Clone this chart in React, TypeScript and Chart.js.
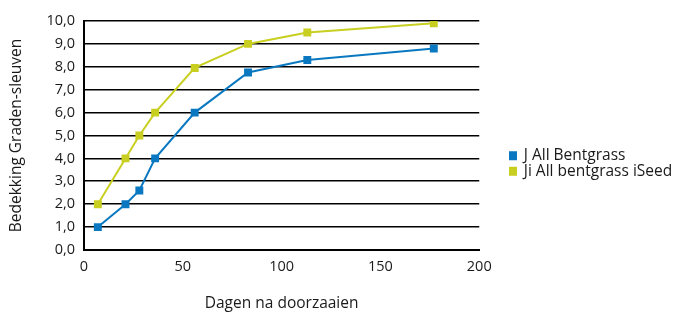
import React, { useEffect, useRef } from 'react';
import { Chart, registerables } from 'chart.js';

Chart.register(...registerables);

const days = [7, 21, 28, 36, 56, 83, 113, 177];
const bentgrass = [1.0, 2.0, 2.6, 4.0, 6.0, 7.75, 8.3, 8.8];
const iseed = [2.0, 4.0, 5.0, 6.0, 7.95, 9.0, 9.5, 9.9];
const seriesNames = ['J All Bentgrass', 'Ji All bentgrass iSeed'];
const seriesColors = ['#0a78c0', '#c8cf20'];
const yTitle = 'Bedekking Graden-sleuven';
const xTitle = 'Dagen na doorzaaien';

const FONT = '"Open Sans", sans-serif';
const TEXT = '#1a1a1a';

const legendShift = {
  id: 'legendShift',
  afterLayout(chart: any) {
    const lg = chart.legend;
    if (!lg) return;
    const targetLeft = 509;
    lg.left = targetLeft;
    lg.right = chart.width;
    lg.width = lg.right - lg.left;
    lg.top -= 4;
    lg.bottom -= 4;
  },
};

export default function App() {
  const ref = useRef<HTMLCanvasElement | null>(null);
  useEffect(() => {
    if (!ref.current) return;
    const mk = (arr: number[]) => days.map((d, i) => ({ x: d, y: arr[i] }));
    const chart = new Chart(ref.current, {
      type: 'line',
      data: {
        datasets: [bentgrass, iseed].map((arr, i) => ({
          label: seriesNames[i],
          data: mk(arr),
          borderColor: seriesColors[i],
          backgroundColor: seriesColors[i],
          borderWidth: 2,
          pointStyle: 'rect',
          pointRadius: 5.6,
          pointBorderWidth: 0,
          pointBackgroundColor: seriesColors[i],
          tension: 0,
          fill: false,
        })),
      },
      options: {
        responsive: false,
        animation: false,
        layout: { padding: { top: 21, right: 42, left: 0, bottom: 0 } },
        plugins: {
          tooltip: { enabled: false },
          legend: {
            position: 'right',
            labels: {
              boxWidth: 7,
              boxHeight: 7,
              padding: 0,
              color: TEXT,
              font: { family: FONT, size: 15.5 },
            },
          },
        },
        scales: {
          x: {
            type: 'linear',
            min: 0,
            max: 200,
            ticks: { stepSize: 50, padding: 8, color: TEXT, font: { family: FONT, size: 14.5 } },
            grid: { display: false, drawTicks: false },
            border: { display: true, color: '#000', width: 2 },
            title: {
              display: true,
              text: xTitle,
              color: TEXT,
              font: { family: FONT, size: 15.5 },
              padding: { top: 0, bottom: 1 },
            },
            afterFit(scale: any) {
              scale.height = 64;
            },
          },
          y: {
            type: 'linear',
            min: 0,
            max: 10,
            ticks: {
              stepSize: 1,
              padding: 9,
              color: TEXT,
              font: { family: FONT, size: 14.5 },
              callback: (v: any) => Number(v).toFixed(1).replace('.', ','),
            },
            grid: { color: '#000', lineWidth: 1.6, drawTicks: false },
            border: { display: true, color: '#000', width: 2 },
            title: {
              display: true,
              text: yTitle,
              color: TEXT,
              font: { family: FONT, size: 15.5 },
              padding: { top: 7, bottom: 0 },
            },
            afterFit(scale: any) {
              scale.width = 84;
            },
          },
        },
      },
      plugins: [legendShift],
    } as any);
    return () => chart.destroy();
  }, []);
  return (
    <div style={{ position: 'absolute', left: 0, top: 0, width: 681, height: 314 }}>
      <canvas ref={ref} width={681} height={314} style={{ display: 'block' }} />
    </div>
  );
}
